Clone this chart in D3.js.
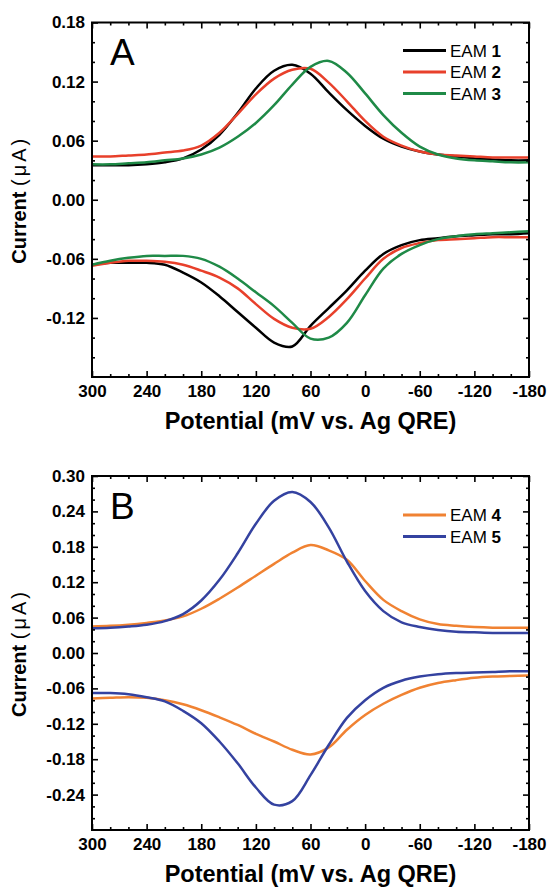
<!DOCTYPE html>
<html><head><meta charset="utf-8">
<script src="https://cdn.jsdelivr.net/npm/d3@7"></script>
<style>
html,body{margin:0;padding:0;background:#fff;}
svg{display:block;}
text{font-family:"Liberation Sans",Arial,Helvetica,sans-serif;}
</style>
</head><body>
<svg id="chart" width="551" height="889"></svg>
<script>
// ---------- DATA ----------
const potentials = [300,280,260,240,220,200,180,160,140,120,100,80,60,40,20,0,-20,-40,-60,-80,-100,-120,-140,-160,-180];

// Panel A (anodic = upper branch, cathodic = lower branch)
const eam1Ox  = [0.035,0.035,0.035,0.036,0.038,0.042,0.051,0.066,0.088,0.113,0.131,0.137,0.128,0.109,0.091,0.075,0.062,0.054,0.049,0.046,0.044,0.042,0.041,0.040,0.040];
const eam1Red = [-0.066,-0.064,-0.064,-0.064,-0.066,-0.074,-0.084,-0.098,-0.114,-0.130,-0.145,-0.149,-0.128,-0.110,-0.092,-0.072,-0.055,-0.046,-0.041,-0.039,-0.037,-0.036,-0.035,-0.035,-0.034];
const eam2Ox  = [0.044,0.044,0.045,0.046,0.048,0.050,0.055,0.068,0.087,0.107,0.123,0.132,0.133,0.119,0.100,0.080,0.064,0.055,0.049,0.046,0.045,0.044,0.043,0.043,0.043];
const eam2Red = [-0.067,-0.064,-0.062,-0.062,-0.063,-0.066,-0.072,-0.079,-0.090,-0.106,-0.121,-0.130,-0.131,-0.119,-0.101,-0.080,-0.060,-0.049,-0.044,-0.041,-0.040,-0.039,-0.038,-0.038,-0.038];
const eam3Ox  = [0.036,0.036,0.037,0.038,0.040,0.042,0.046,0.053,0.064,0.078,0.096,0.117,0.135,0.141,0.129,0.108,0.086,0.068,0.054,0.046,0.042,0.040,0.039,0.038,0.038];
const eam3Red = [-0.066,-0.062,-0.059,-0.057,-0.057,-0.057,-0.060,-0.068,-0.080,-0.094,-0.108,-0.125,-0.141,-0.140,-0.125,-0.097,-0.070,-0.055,-0.046,-0.040,-0.037,-0.035,-0.034,-0.033,-0.032];

// Panel B
const eam4Ox  = [0.045,0.046,0.048,0.051,0.055,0.062,0.075,0.092,0.111,0.131,0.151,0.170,0.183,0.174,0.158,0.122,0.090,0.071,0.057,0.049,0.046,0.044,0.043,0.043,0.043];
const eam4Red = [-0.077,-0.076,-0.075,-0.076,-0.080,-0.087,-0.097,-0.109,-0.122,-0.137,-0.150,-0.164,-0.172,-0.160,-0.130,-0.105,-0.086,-0.071,-0.059,-0.051,-0.046,-0.042,-0.040,-0.039,-0.038];
const eam5Ox  = [0.042,0.043,0.045,0.048,0.054,0.066,0.089,0.124,0.169,0.219,0.258,0.273,0.256,0.213,0.155,0.105,0.071,0.052,0.044,0.039,0.036,0.035,0.034,0.034,0.034];
const eam5Red = [-0.068,-0.068,-0.070,-0.075,-0.082,-0.098,-0.119,-0.150,-0.187,-0.228,-0.257,-0.251,-0.207,-0.156,-0.110,-0.080,-0.059,-0.047,-0.040,-0.036,-0.034,-0.033,-0.032,-0.031,-0.031];

const xTicks = [300,240,180,120,60,0,-60,-120,-180];
const xMinorTicks = [280,260,220,200,160,140,100,80,40,20,-20,-40,-80,-100,-140,-160];
const yTicksA = [0.18,0.12,0.06,0.00,-0.06,-0.12];
const yTicksB = [0.30,0.24,0.18,0.12,0.06,0.00,-0.06,-0.12,-0.18,-0.24];

const seriesA = [
  {name:"EAM ", num:"1", color:"#000000", ox:eam1Ox, red:eam1Red},
  {name:"EAM ", num:"2", color:"#e8402b", ox:eam2Ox, red:eam2Red},
  {name:"EAM ", num:"3", color:"#1f8a47", ox:eam3Ox, red:eam3Red}
];
const seriesB = [
  {name:"EAM ", num:"4", color:"#f08232", ox:eam4Ox, red:eam4Red},
  {name:"EAM ", num:"5", color:"#3442a0", ox:eam5Ox, red:eam5Red}
];

// ---------- DRAW ----------
const svg = d3.select("#chart");
const X0 = 92, X1 = 529;

function drawPanel(cfg){
  const g = svg.append("g");
  const x = d3.scaleLinear().domain([300,-180]).range([X0,X1]);
  const y = d3.scaleLinear().domain(cfg.yDomain).range([cfg.bottom, cfg.top]);
  const ext = cfg.yDomain;
  const yMinor = d3.range(Math.round(ext[0]*100), Math.round(ext[1]*100)+1, 2)
      .map(d=>d/100)
      .filter(v => !cfg.yTicks.some(t=>Math.abs(t-v)<1e-6) && v>ext[0]+1e-6 && v<ext[1]-1e-6);

  const clipId = "clip"+cfg.id;
  svg.append("clipPath").attr("id",clipId).append("rect")
    .attr("x",X0).attr("y",cfg.top).attr("width",X1-X0).attr("height",cfg.bottom-cfg.top);

  const line = d3.line().x((d,i)=>x(potentials[i])).y(d=>y(d)).curve(d3.curveCatmullRom.alpha(0.5));
  const lg = g.append("g").attr("clip-path",`url(#${clipId})`);
  cfg.series.forEach(s=>{
    [s.ox, s.red].forEach(arr=>{
      lg.append("path").attr("d",line(arr)).attr("fill","none")
        .attr("stroke",s.color).attr("stroke-width",2.5).attr("stroke-linejoin","round");
    });
  });

  const fmtY = v => v.toFixed(2);
  const styleAxis = (sel)=>{
    sel.select(".domain").remove();
    sel.selectAll(".tick line").attr("stroke","#000").attr("stroke-width",1.6);
    sel.selectAll(".tick text").attr("fill","#000").style("font-size","17px").style("font-weight","bold")
       .style("font-family",'"Liberation Sans",Arial,Helvetica,sans-serif');
  };
  g.append("g").attr("transform",`translate(0,${cfg.bottom})`)
    .call(d3.axisBottom(x).tickValues(xTicks).tickSize(-6).tickPadding(8).tickFormat(d=>String(d))).call(styleAxis);
  g.append("g").attr("transform",`translate(0,${cfg.bottom})`)
    .call(d3.axisBottom(x).tickValues(xMinorTicks).tickSize(-3).tickFormat("")).call(styleAxis);
  g.append("g").attr("transform",`translate(0,${cfg.top})`)
    .call(d3.axisTop(x).tickValues(xTicks).tickSize(-6).tickFormat("")).call(styleAxis);
  g.append("g").attr("transform",`translate(0,${cfg.top})`)
    .call(d3.axisTop(x).tickValues(xMinorTicks).tickSize(-3).tickFormat("")).call(styleAxis);
  g.append("g").attr("transform",`translate(${X0},0)`)
    .call(d3.axisLeft(y).tickValues(cfg.yTicks).tickSize(-6).tickPadding(7).tickFormat(fmtY)).call(styleAxis);
  g.append("g").attr("transform",`translate(${X0},0)`)
    .call(d3.axisLeft(y).tickValues(yMinor).tickSize(-3).tickFormat("")).call(styleAxis);
  g.append("g").attr("transform",`translate(${X1},0)`)
    .call(d3.axisRight(y).tickValues(cfg.yTicks).tickSize(-6).tickFormat("")).call(styleAxis);
  g.append("g").attr("transform",`translate(${X1},0)`)
    .call(d3.axisRight(y).tickValues(yMinor).tickSize(-3).tickFormat("")).call(styleAxis);

  g.append("rect").attr("x",X0).attr("y",cfg.top).attr("width",X1-X0).attr("height",cfg.bottom-cfg.top)
    .attr("fill","none").attr("stroke","#000").attr("stroke-width",2);

  g.append("text").attr("x",110).attr("y",cfg.top+42.5).text(cfg.letter)
    .style("font-size","37px").attr("fill","#000");

  cfg.series.forEach((s,i)=>{
    const ly = cfg.top + cfg.legendTop + i*21.5;
    g.append("line").attr("x1",403).attr("x2",446).attr("y1",ly).attr("y2",ly)
      .attr("stroke",s.color).attr("stroke-width",3);
    const t = g.append("text").attr("x",450).attr("y",ly+6).style("font-size","17px").attr("fill","#000");
    t.append("tspan").text(s.name);
    t.append("tspan").text(s.num).style("font-weight","bold");
  });

  g.append("text").attr("x",(X0+X1)/2).attr("y",cfg.bottom+52).attr("text-anchor","middle")
    .style("font-size","23.5px").style("font-weight","bold").attr("fill","#000")
    .text("Potential (mV vs. Ag QRE)");
  const yt = g.append("text").attr("transform",`translate(26,${(cfg.top+cfg.bottom)/2}) rotate(-90)`)
    .attr("text-anchor","middle").style("font-size","20px").attr("fill","#000");
  yt.append("tspan").text("Current ").style("font-weight","bold");
  yt.append("tspan").text("(μA)").style("font-weight","normal").style("letter-spacing","3px");
}

drawPanel({id:"A", top:22.5, bottom:377, yDomain:[-0.18,0.18], yTicks:yTicksA, series:seriesA, letter:"A", legendTop:28});
drawPanel({id:"B", top:476, bottom:830, yDomain:[-0.30,0.30], yTicks:yTicksB, series:seriesB, letter:"B", legendTop:39});
</script>
</body></html>
